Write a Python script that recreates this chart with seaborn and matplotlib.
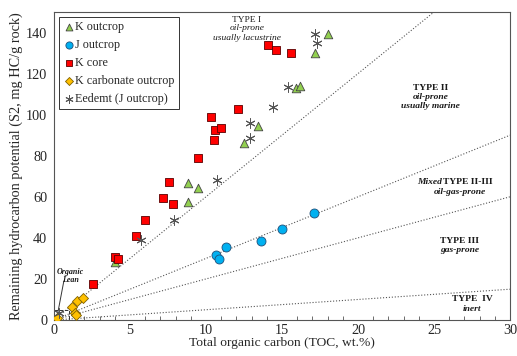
import numpy as np
import pandas as pd
import matplotlib
matplotlib.use("Agg")
import matplotlib.pyplot as plt
import seaborn as sns

# TOC (wt.%) and S2 (mg HC/g rock)
k_outcrop_toc = [4.0, 8.8, 9.5, 8.8, 12.5, 13.4, 15.9, 16.2, 18.0, 17.2]
k_outcrop_s2 = [28.2, 66.6, 64.2, 57.4, 86.0, 94.3, 112.8, 113.8, 139.5, 129.8]

j_outcrop_toc = [10.65, 10.85, 11.3, 13.6, 15.0, 17.1]
j_outcrop_s2 = [31.6, 29.7, 35.5, 38.4, 44.2, 52.0]

k_core_toc = [2.6, 4.0, 4.2, 5.4, 6.0, 7.2, 7.6, 7.8, 9.5, 10.3, 10.5, 10.6, 11.0, 12.1, 14.1, 14.6, 15.6]
k_core_s2 = [17.5, 30.6, 29.7, 40.8, 48.6, 59.3, 67.1, 56.4, 78.8, 98.7, 87.5, 92.4, 93.3, 102.6, 133.7, 131.3, 129.8]

k_carb_toc = [0.2, 1.2, 1.5, 1.9, 1.4, 1.45]
k_carb_s2 = [1.0, 6.3, 9.2, 10.9, 3.4, 2.4]

eedemt_toc = [0.3, 5.75, 7.9, 10.7, 12.9, 12.9, 14.4, 15.4, 17.2, 17.3]
eedemt_s2 = [3.3, 38.9, 48.6, 68.0, 95.8, 88.5, 103.5, 113.3, 139.5, 135.0]

# hydrogen index boundaries (S2/TOC)
hi_slopes = [6.0, 3.0, 2.0, 0.5]

groups = ["K outcrop", "J outcrop", "K core", "K carbonate outcrop", "Eedemt (J outcrop)"]
toc_lists = [k_outcrop_toc, j_outcrop_toc, k_core_toc, k_carb_toc, eedemt_toc]
s2_lists = [k_outcrop_s2, j_outcrop_s2, k_core_s2, k_carb_s2, eedemt_s2]

rows = []
for g, t, s in zip(groups, toc_lists, s2_lists):
    for a, b in zip(t, s):
        rows.append({"group": g, "TOC": a, "S2": b})
df = pd.DataFrame(rows)

sns.set_style("white")
plt.rcParams["font.family"] = ["Liberation Serif", "DejaVu Serif"]

fig = plt.figure(figsize=(5.17, 3.56), dpi=100)
ax = fig.add_axes([0.1044, 0.1011, 0.882, 0.8652])

# type boundary lines
xx = np.array([0, 30])
for m in hi_slopes:
    ax.plot(xx, m * xx, ls=":", color="#555555", lw=0.8, zorder=1)

# organic lean box
ax.plot([0, 1, 1], [5, 5, 0], ls="--", color="#333333", lw=0.7, zorder=1)
ax.plot([0.2, 0.65], [1.5, 19], color="#333333", lw=0.7, zorder=1)

styles = {
    "K outcrop": dict(marker="^", color="#92D050", edgecolor="#444444", s=38, linewidth=0.6),
    "J outcrop": dict(marker="o", color="#00B0F0", edgecolor="#1F4E79", s=42, linewidth=0.6),
    "K core": dict(marker="s", color="#FF0000", edgecolor="#5a0000", s=28, linewidth=0.6),
    "K carbonate outcrop": dict(marker="D", color="#FFC000", edgecolor="#7f6000", s=26, linewidth=0.6),
    "Eedemt (J outcrop)": dict(marker=(6, 2, 0), color="#555555", s=45, linewidth=0.7),
}
for g in groups:
    sub = df[df["group"] == g]
    sns.scatterplot(data=sub, x="TOC", y="S2", ax=ax, label=g, zorder=3, **styles[g])

ax.set_xlim(0, 30)
ax.set_ylim(0, 150)
ax.set_xticks(range(0, 31, 5))
ax.set_xticks(range(0, 31, 1), minor=True)
ax.set_yticks(range(0, 141, 20))
ax.tick_params(axis="x", which="both", direction="in", length=3, color="#555555", labelsize=10.3, pad=3)
ax.tick_params(axis="y", which="both", direction="out", length=3, color="#555555", labelsize=10.3, pad=2)
ax.tick_params(axis="x", which="minor", bottom=True)
for sp in ax.spines.values():
    sp.set_color("#555555")
    sp.set_linewidth(0.8)

ax.set_xlabel("Total organic carbon (TOC, wt.%)", fontsize=9.7, labelpad=0)
ax.set_ylabel("Remaining hydrocarbon potential (S2, mg HC/g rock)", fontsize=10.3, labelpad=2)

# region labels
c = "#1a1a1a"
ax.text(12.7, 146, "TYPE I", ha="center", va="center", fontsize=6.8, color=c)
ax.text(12.7, 142, "oil-prone", ha="center", va="center", fontsize=6.8, style="italic", color=c)
ax.text(12.7, 137.5, "usually lacustrine", ha="center", va="center", fontsize=6.8, style="italic", color=c)

ax.text(24.8, 113, "TYPE II", ha="center", va="center", fontsize=6.8, weight="bold", color=c)
ax.text(24.8, 108.5, "oil-prone", ha="center", va="center", fontsize=6.8, weight="bold", style="italic", color=c)
ax.text(24.8, 104, "usually marine", ha="center", va="center", fontsize=6.8, weight="bold", style="italic", color=c)

ax.text(25.5, 67, "Mixed", ha="right", va="center", fontsize=6.8, weight="bold", style="italic", color=c)
ax.text(25.6, 67, "TYPE II-III", ha="left", va="center", fontsize=6.8, weight="bold", color=c)
ax.text(26.7, 62.5, "oil-gas-prone", ha="center", va="center", fontsize=6.8, weight="bold", style="italic", color=c)

ax.text(26.7, 38.5, "TYPE III", ha="center", va="center", fontsize=6.8, weight="bold", color=c)
ax.text(26.7, 34, "gas-prone", ha="center", va="center", fontsize=6.8, weight="bold", style="italic", color=c)

ax.text(27.5, 10, "TYPE  IV", ha="center", va="center", fontsize=6.8, weight="bold", color=c)
ax.text(27.5, 5.5, "inert", ha="center", va="center", fontsize=6.8, weight="bold", style="italic", color=c)

ax.text(1.1, 23.5, "Organic", ha="center", va="center", fontsize=5.8, weight="bold", style="italic", color=c)
ax.text(1.1, 19.5, "Lean", ha="center", va="center", fontsize=5.8, weight="bold", style="italic", color=c)

leg = ax.legend(loc="upper left", fontsize=8.7, frameon=True, fancybox=False, framealpha=1,
                edgecolor="#333333", handletextpad=0.0, handlelength=1.0, borderpad=0.35,
                labelspacing=0.5, borderaxespad=0.4, markerscale=0.8)
leg.get_frame().set_linewidth(0.7)

fig.savefig("out.png", dpi=100)
